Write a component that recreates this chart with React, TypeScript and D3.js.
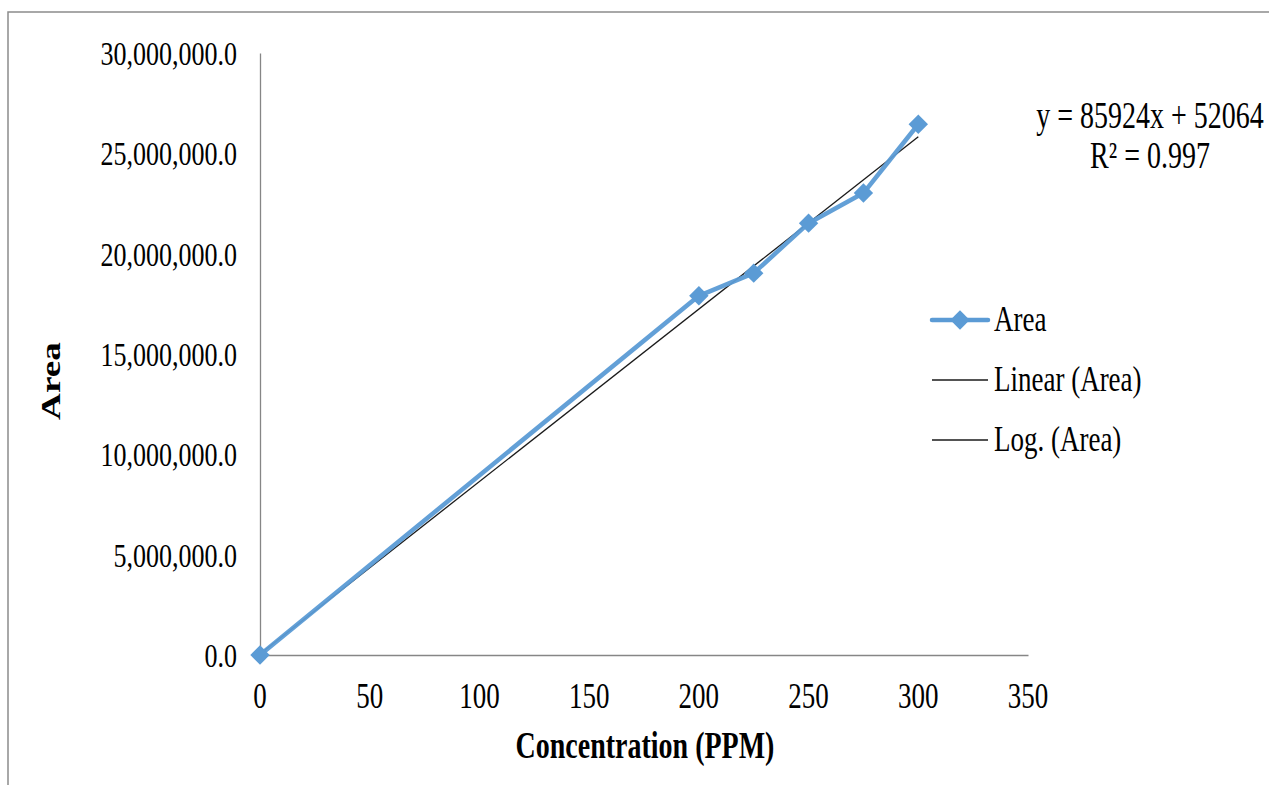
import * as d3 from "d3";
import React, { useEffect, useRef } from "react";

// concentration (PPM) vs peak area
const concentration = [0, 200, 225, 250, 275, 300];
const area = [0, 17900000, 19030000, 21520000, 23020000, 26450000];

const xTicks = [0, 50, 100, 150, 200, 250, 300, 350];
const yTicks = [0, 5000000, 10000000, 15000000, 20000000, 25000000, 30000000];

const trendSlope = 85924;
const trendIntercept = 52064;
const equationLines = ["y = 85924x + 52064", "R² = 0.997"];

const legendLabels = ["Area", "Linear (Area)", "Log. (Area)"];

const FONT = '"Liberation Serif", "Times New Roman", serif';
const BLUE = "#5B9BD5";
const STRETCH = 1.33; // picture is stretched vertically

const App = () => {
  const svgRef = useRef<SVGSVGElement>(null);

  const renderSVG = () => {
    const dims = {
      width: 1269,
      height: 785,
      left: 260,
      right: 1028,
      top: 53,
      bottom: 655,
    };

    const x = d3.scaleLinear([0, 350], [dims.left, dims.right]);
    const y = d3.scaleLinear([0, 30000000], [dims.bottom, dims.top]);

    const svg = d3.select(svgRef.current);
    svg.selectAll("*").remove();
    svg
      .attr("width", dims.width)
      .attr("height", dims.height)
      .attr("viewBox", [0, 0, dims.width, dims.height].join(" "));

    svg
      .append("rect")
      .attr("width", dims.width)
      .attr("height", dims.height)
      .attr("fill", "#fff");

    // chart frame
    svg
      .append("rect")
      .attr("x", 8)
      .attr("y", 12)
      .attr("width", 1400)
      .attr("height", 1000)
      .attr("fill", "none")
      .attr("stroke", "#8c8c8c")
      .attr("stroke-width", 1.5);

    const addText = (
      tx: number,
      ty: number,
      str: string,
      size: number,
      anchor: string,
      bold = false,
      rotate = false
    ) =>
      svg
        .append("text")
        .attr(
          "transform",
          `translate(${tx},${ty}) scale(1,${STRETCH})${rotate ? " rotate(-90)" : ""}`
        )
        .attr("text-anchor", anchor)
        .attr("font-family", FONT)
        .attr("font-size", size)
        .attr("font-weight", bold ? "bold" : "normal")
        .attr("fill", "#000")
        .text(str);

    // axes
    const yAxis = d3.axisLeft(y).tickValues(yTicks).tickSize(0).tickFormat(() => "");
    svg
      .append("g")
      .attr("transform", `translate(${dims.left},0)`)
      .call(yAxis)
      .call((g) => g.selectAll(".domain").attr("stroke", "#868686").attr("stroke-width", 1.3));

    const xAxis = d3.axisBottom(x).tickValues(xTicks).tickSize(0).tickFormat(() => "");
    svg
      .append("g")
      .attr("transform", `translate(0,${dims.bottom})`)
      .call(xAxis)
      .call((g) => g.selectAll(".domain").attr("stroke", "#868686").attr("stroke-width", 1.3));

    const yFmt = d3.format(",.1f");
    yTicks.forEach((t) => addText(237, y(t) + 12, yFmt(t), 26, "end"));
    xTicks.forEach((t) => addText(x(t), 708, String(t), 27, "middle"));

    addText(645, 758, "Concentration (PPM)", 28, "middle", true);
    addText(60, 381, "Area", 28, "middle", true, true);

    // linear trendline
    const trendX = [0, d3.max(concentration) as number];
    svg
      .append("path")
      .attr(
        "d",
        d3
          .line<number>()
          .x((d) => x(d))
          .y((d) => y(trendSlope * d + trendIntercept))(trendX)
      )
      .attr("fill", "none")
      .attr("stroke", "#1a1a1a")
      .attr("stroke-width", 1.3);

    // series
    const pts = concentration.map((c, i) => [x(c), y(area[i])] as [number, number]);
    svg
      .append("path")
      .attr("d", d3.line()(pts))
      .attr("fill", "none")
      .attr("stroke", BLUE)
      .attr("stroke-width", 4.5)
      .attr("stroke-linejoin", "round")
      .attr("opacity", 0.95);

    const diamond = d3.symbol().type(d3.symbolDiamond2).size(240);
    svg
      .append("g")
      .selectAll("path")
      .data(pts)
      .join("path")
      .attr("d", diamond)
      .attr("transform", (d) => `translate(${d[0]},${d[1]})`)
      .attr("fill", BLUE);

    // trend equation
    equationLines.forEach((s, i) => addText(1150, 128 + i * 40, s, 28, "middle"));

    // legend
    legendLabels.forEach((label, i) => {
      const ly = 320 + i * 60;
      const g = svg.append("g");
      g.append("line")
        .attr("x1", 932)
        .attr("x2", 988)
        .attr("y1", ly)
        .attr("y2", ly)
        .attr("stroke", i === 0 ? BLUE : "#1a1a1a")
        .attr("stroke-width", i === 0 ? 4.5 : 1.3)
        .attr("stroke-linecap", i === 0 ? "round" : "butt");
      if (i === 0) {
        g.append("path")
          .attr("d", diamond)
          .attr("transform", `translate(960,${ly})`)
          .attr("fill", BLUE);
      }
      addText(994, ly + 11, label, 27, "start");
    });
  };

  useEffect(() => {
    document.body.style.margin = "0";
    renderSVG();
  });

  return <svg ref={svgRef} style={{ display: "block" }} />;
};

export default App;
